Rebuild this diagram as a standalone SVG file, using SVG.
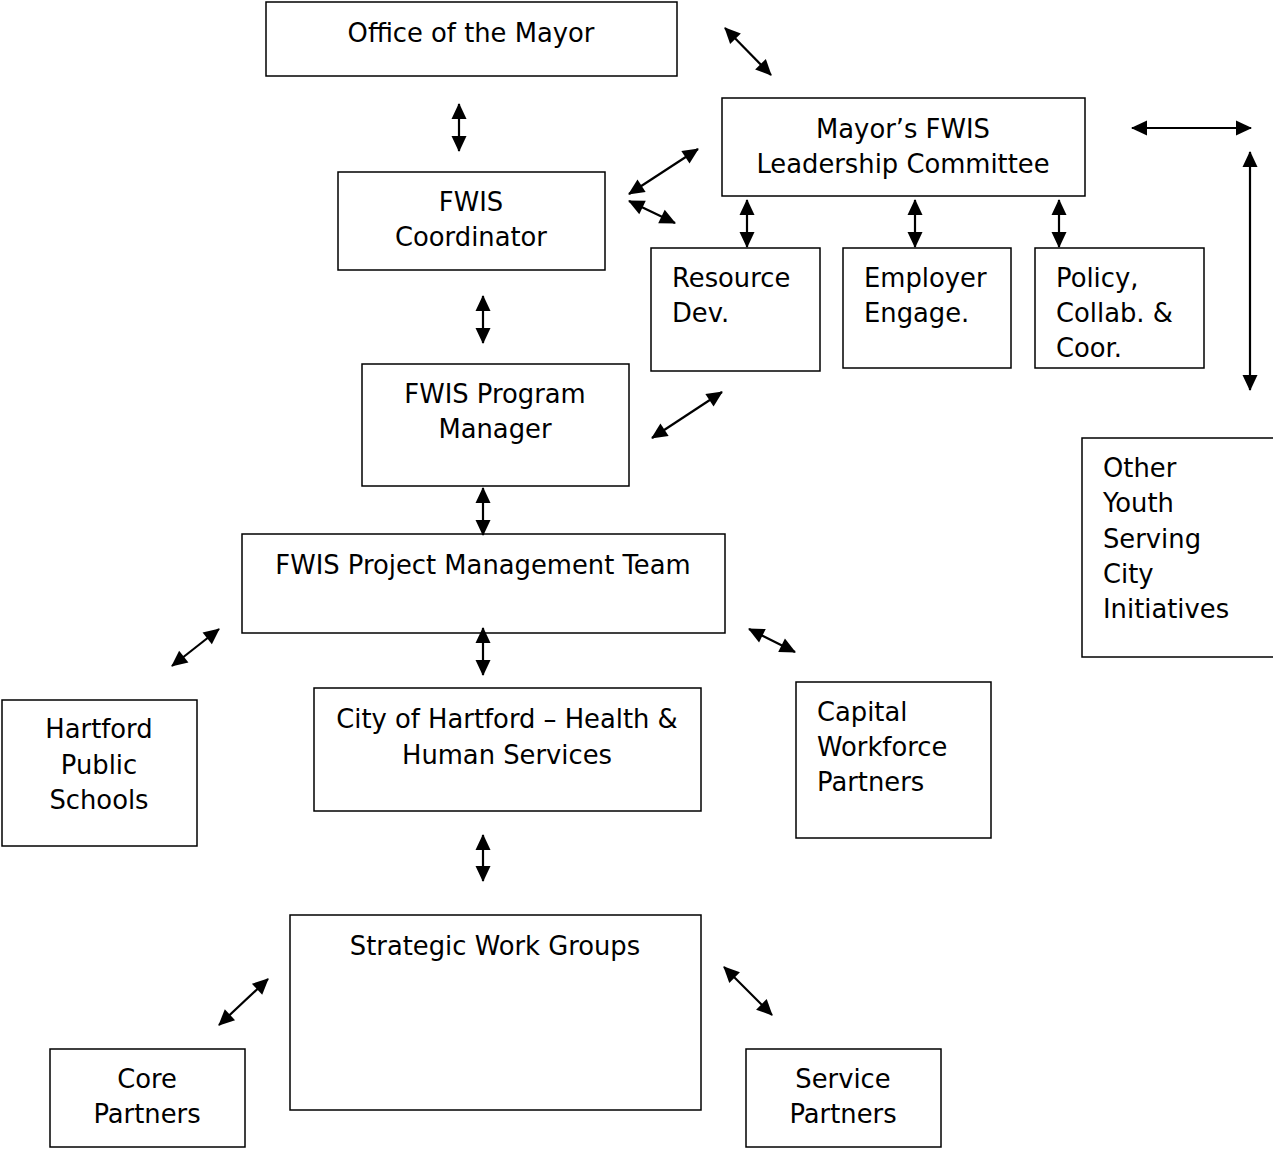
<svg xmlns="http://www.w3.org/2000/svg" width="1273" height="1149" viewBox="0 0 1273 1149">
<style>
  .box { fill: #fff; stroke: #000; stroke-width: 1.5; }
  .t { font-family: "DejaVu Sans", Verdana, sans-serif; font-size: 25.8px; fill: #000; }
  .c { text-anchor: middle; }
  .arr { stroke: #000; stroke-width: 2.2; fill: none; marker-start: url(#ah); marker-end: url(#ah); }
</style>
<defs>
  <marker id="ah" markerUnits="userSpaceOnUse" markerWidth="17" markerHeight="17" refX="15" refY="8" orient="auto-start-reverse" overflow="visible">
    <path d="M0,0.5 L16,8 L0,15.5 z" fill="#000"/>
  </marker>
  <clipPath id="clipPolicy"><rect x="1035" y="248" width="170" height="110"/></clipPath>
</defs>
<rect width="1273" height="1149" fill="#fff"/>

<g id="mayor">
  <rect class="box" x="266" y="2" width="411" height="74"/>
  <text class="t c" x="471" y="42">Office of the Mayor</text>
</g>
<g id="committee">
  <rect class="box" x="722" y="98" width="363" height="98"/>
  <text class="t c" x="903" y="138">Mayor’s FWIS</text>
  <text class="t c" x="903" y="173">Leadership Committee</text>
</g>
<g id="coordinator">
  <rect class="box" x="338" y="172" width="267" height="98"/>
  <text class="t c" x="471" y="211">FWIS</text>
  <text class="t c" x="471" y="246">Coordinator</text>
</g>
<g id="resource">
  <rect class="box" x="651" y="248" width="169" height="123"/>
  <text class="t" x="672" y="287">Resource</text>
  <text class="t" x="672" y="322">Dev.</text>
</g>
<g id="employer">
  <rect class="box" x="843" y="248" width="168" height="120"/>
  <text class="t" x="864" y="287">Employer</text>
  <text class="t" x="864" y="322">Engage.</text>
</g>
<g id="policy">
  <rect class="box" x="1035" y="248" width="169" height="120"/>
  <g clip-path="url(#clipPolicy)">
    <text class="t" x="1056" y="287">Policy,</text>
    <text class="t" x="1056" y="322">Collab. &amp;</text>
    <text class="t" x="1056" y="357">Coor.</text>
  </g>
</g>
<g id="program-manager">
  <rect class="box" x="362" y="364" width="267" height="122"/>
  <text class="t c" x="495" y="403">FWIS Program</text>
  <text class="t c" x="495" y="438">Manager</text>
</g>
<g id="other-youth">
  <rect class="box" x="1082" y="438" width="200" height="219"/>
  <text class="t" x="1103" y="477">Other</text>
  <text class="t" x="1103" y="512">Youth</text>
  <text class="t" x="1103" y="548">Serving</text>
  <text class="t" x="1103" y="583">City</text>
  <text class="t" x="1103" y="618">Initiatives</text>
</g>
<g id="pm-team">
  <rect class="box" x="242" y="534" width="483" height="99"/>
  <text class="t c" x="483" y="574">FWIS Project Management Team</text>
</g>
<g id="hhs">
  <rect class="box" x="314" y="688" width="387" height="123"/>
  <text class="t c" x="507" y="728">City of Hartford – Health &amp;</text>
  <text class="t c" x="507" y="764">Human Services</text>
</g>
<g id="hps">
  <rect class="box" x="2" y="700" width="195" height="146"/>
  <text class="t c" x="99" y="738">Hartford</text>
  <text class="t c" x="99" y="774">Public</text>
  <text class="t c" x="99" y="809">Schools</text>
</g>
<g id="cwp">
  <rect class="box" x="796" y="682" width="195" height="156"/>
  <text class="t" x="817" y="721">Capital</text>
  <text class="t" x="817" y="756">Workforce</text>
  <text class="t" x="817" y="791">Partners</text>
</g>
<g id="swg">
  <rect class="box" x="290" y="915" width="411" height="195"/>
  <text class="t c" x="495" y="955">Strategic Work Groups</text>
</g>
<g id="core">
  <rect class="box" x="50" y="1049" width="195" height="98"/>
  <text class="t c" x="147" y="1088">Core</text>
  <text class="t c" x="147" y="1123">Partners</text>
</g>
<g id="service">
  <rect class="box" x="746" y="1049" width="195" height="98"/>
  <text class="t c" x="843" y="1088">Service</text>
  <text class="t c" x="843" y="1123">Partners</text>
</g>

<g id="connectors">
  <line class="arr" x1="725" y1="28" x2="771" y2="75"/>
  <line class="arr" x1="459" y1="104" x2="459" y2="151"/>
  <line class="arr" x1="629" y1="194" x2="698" y2="149"/>
  <line class="arr" x1="629" y1="201" x2="675" y2="223"/>
  <line class="arr" x1="747" y1="200" x2="747" y2="247"/>
  <line class="arr" x1="915" y1="200" x2="915" y2="247"/>
  <line class="arr" x1="1059" y1="200" x2="1059" y2="247"/>
  <line class="arr" x1="1132" y1="128" x2="1251" y2="128"/>
  <line class="arr" x1="1250" y1="152" x2="1250" y2="390"/>
  <line class="arr" x1="483" y1="296" x2="483" y2="343"/>
  <line class="arr" x1="652" y1="438" x2="722" y2="392"/>
  <line class="arr" x1="483" y1="488" x2="483" y2="535"/>
  <line class="arr" x1="483" y1="628" x2="483" y2="675"/>
  <line class="arr" x1="172" y1="666" x2="219" y2="629"/>
  <line class="arr" x1="749" y1="629" x2="795" y2="652"/>
  <line class="arr" x1="483" y1="835" x2="483" y2="881"/>
  <line class="arr" x1="219" y1="1025" x2="268" y2="979"/>
  <line class="arr" x1="724" y1="967" x2="772" y2="1015"/>
</g>
</svg>
